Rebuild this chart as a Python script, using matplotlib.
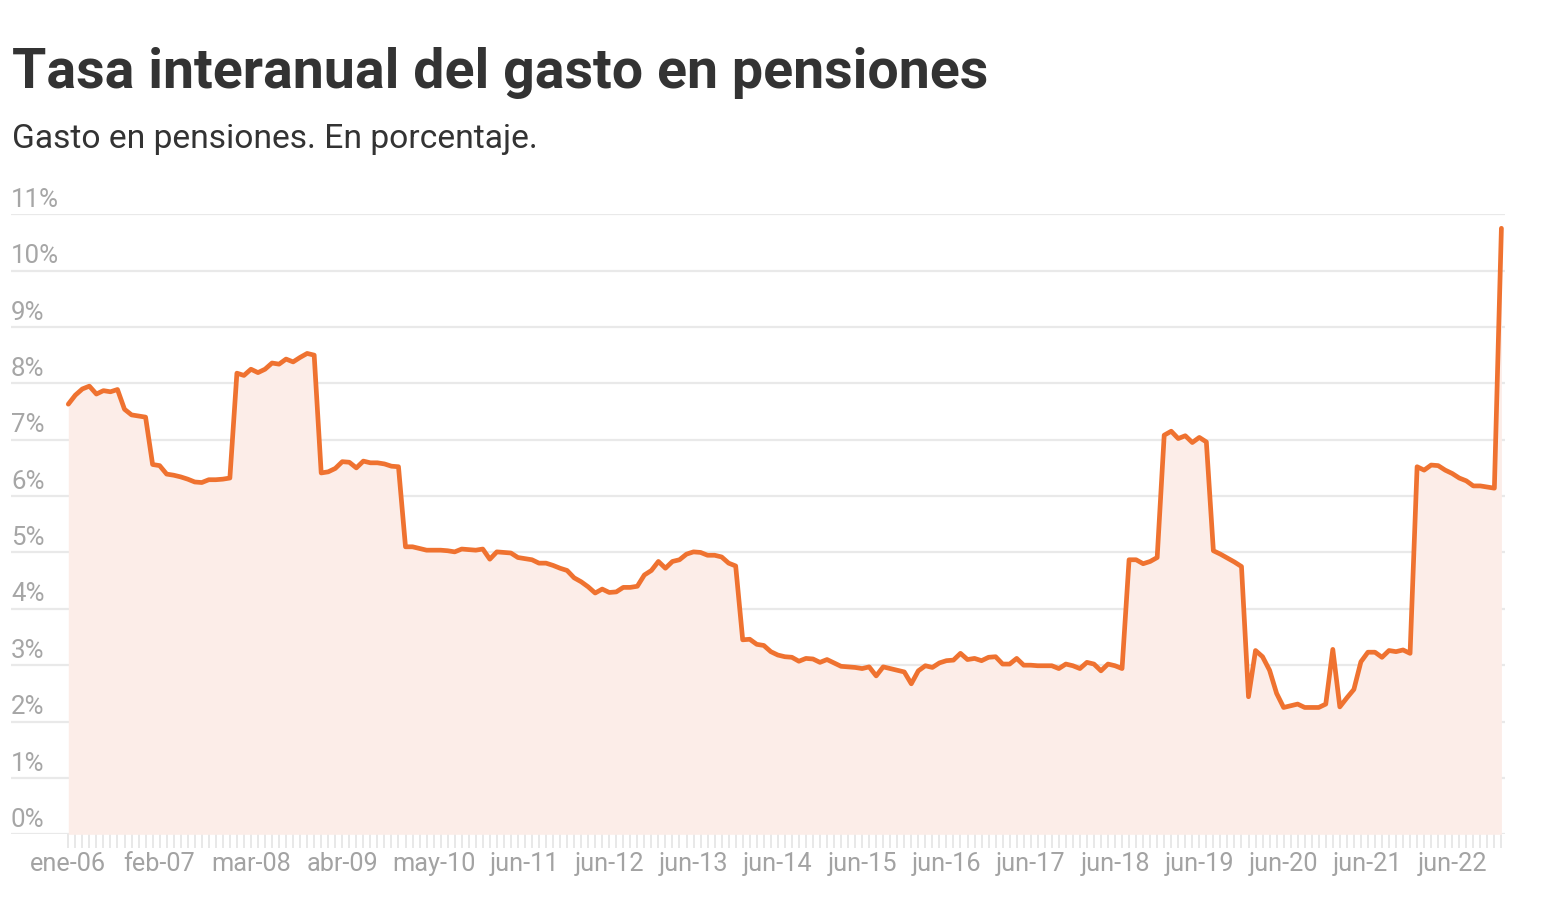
import numpy as np
import matplotlib.pyplot as plt

plt.rcParams['font.family'] = ['Roboto', 'DejaVu Sans']

# tasa interanual, mensual desde ene-06 hasta ene-23
tasa = [
    7.63, 7.79, 7.90, 7.95, 7.81, 7.87, 7.85, 7.89, 7.54, 7.44,
    7.42, 7.40, 6.56, 6.54, 6.39, 6.37, 6.34, 6.30, 6.25, 6.24,
    6.29, 6.29, 6.30, 6.32, 8.18, 8.14, 8.25, 8.19, 8.25, 8.36,
    8.34, 8.43, 8.38, 8.46, 8.53, 8.50, 6.41, 6.43, 6.49, 6.61,
    6.60, 6.50, 6.62, 6.59, 6.59, 6.57, 6.53, 6.52, 5.10, 5.10,
    5.07, 5.04, 5.04, 5.04, 5.03, 5.01, 5.06, 5.05, 5.04, 5.06,
    4.88, 5.01, 5.00, 4.99, 4.91, 4.89, 4.87, 4.81, 4.81, 4.77,
    4.72, 4.68, 4.55, 4.48, 4.39, 4.28, 4.35, 4.29, 4.30, 4.38,
    4.38, 4.40, 4.60, 4.68, 4.84, 4.72, 4.84, 4.87, 4.97, 5.01,
    5.00, 4.95, 4.95, 4.92, 4.81, 4.76, 3.45, 3.46, 3.37, 3.35,
    3.24, 3.18, 3.15, 3.14, 3.07, 3.12, 3.11, 3.05, 3.10, 3.04,
    2.98, 2.97, 2.96, 2.94, 2.97, 2.81, 2.97, 2.94, 2.91, 2.88,
    2.67, 2.90, 2.99, 2.96, 3.04, 3.08, 3.09, 3.21, 3.10, 3.12,
    3.08, 3.14, 3.15, 3.02, 3.02, 3.12, 3.00, 3.00, 2.99, 2.99,
    2.99, 2.94, 3.02, 2.99, 2.94, 3.05, 3.02, 2.90, 3.02, 2.99,
    2.94, 4.87, 4.87, 4.80, 4.84, 4.91, 7.08, 7.15, 7.02, 7.07,
    6.95, 7.04, 6.96, 5.03, 4.97, 4.90, 4.83, 4.75, 2.44, 3.26,
    3.15, 2.91, 2.50, 2.25, 2.28, 2.31, 2.25, 2.25, 2.25, 2.31,
    3.28, 2.26, 2.42, 2.57, 3.06, 3.23, 3.23, 3.14, 3.26, 3.24,
    3.27, 3.21, 6.52, 6.46, 6.55, 6.54, 6.46, 6.40, 6.32, 6.27,
    6.18, 6.18, 6.16, 6.14, 10.75,
]
meses = np.arange(len(tasa))

etiquetas_pos = [0, 13, 26, 39, 52, 65, 77, 89, 101, 113, 125, 137, 149, 161, 173, 185, 197]
etiquetas = ['ene-06', 'feb-07', 'mar-08', 'abr-09', 'may-10', 'jun-11', 'jun-12', 'jun-13',
             'jun-14', 'jun-15', 'jun-16', 'jun-17', 'jun-18', 'jun-19', 'jun-20', 'jun-21', 'jun-22']
niveles = list(range(0, 12))

W, H = 1554, 908
fig = plt.figure(figsize=(W / 100, H / 100), dpi=100)

x_left, x_right = 11, 1505
y_top, y_bot = 214.2, 834.3
ax = fig.add_axes([x_left / W, (H - y_bot) / H, (x_right - x_left) / W, (y_bot - y_top) / H])

dx = 7.025
ax.set_xlim(-(68.3 - x_left) / dx, 204 + (x_right - 1501.4) / dx)
ax.set_ylim(0, 11)

ax.fill_between(meses, 0, tasa, color='#fcede8', lw=0, zorder=1)
ax.plot(meses, tasa, color='#ef7230', lw=3.4, solid_joinstyle='round',
        solid_capstyle='round', zorder=3, clip_on=False)

for s in ax.spines.values():
    s.set_visible(False)

ax.set_yticks(niveles)
ax.yaxis.grid(True, color='#e9e9e9', lw=1.6, zorder=0)
ax.set_axisbelow(True)
ax.tick_params(axis='y', length=0, labelleft=False)
for v in niveles:
    ax.text(0.0, v + 0.13, f'{v}%', transform=ax.get_yaxis_transform(),
            ha='left', va='baseline', fontsize=18.6, color='#a6a6a6')

ax.set_xticks(etiquetas_pos)
ax.set_xticklabels(etiquetas)
ax.set_xticks(meses, minor=True)
ax.tick_params(axis='x', which='both', direction='out', length=10, width=1.3,
               color='#e6e6e6', pad=3)
ax.tick_params(axis='x', which='major', labelsize=18.2, labelcolor='#a3a3a3')

fig.text(12 / W, 1 - 88 / H, 'Tasa interanual del gasto en pensiones', fontsize=40,
         fontweight='bold', color='#333333', ha='left', va='baseline')
fig.text(12 / W, 1 - 148 / H, 'Gasto en pensiones. En porcentaje.', fontsize=24.2,
         color='#333333', ha='left', va='baseline')

fig.savefig('out.png', dpi=100, facecolor='white')
